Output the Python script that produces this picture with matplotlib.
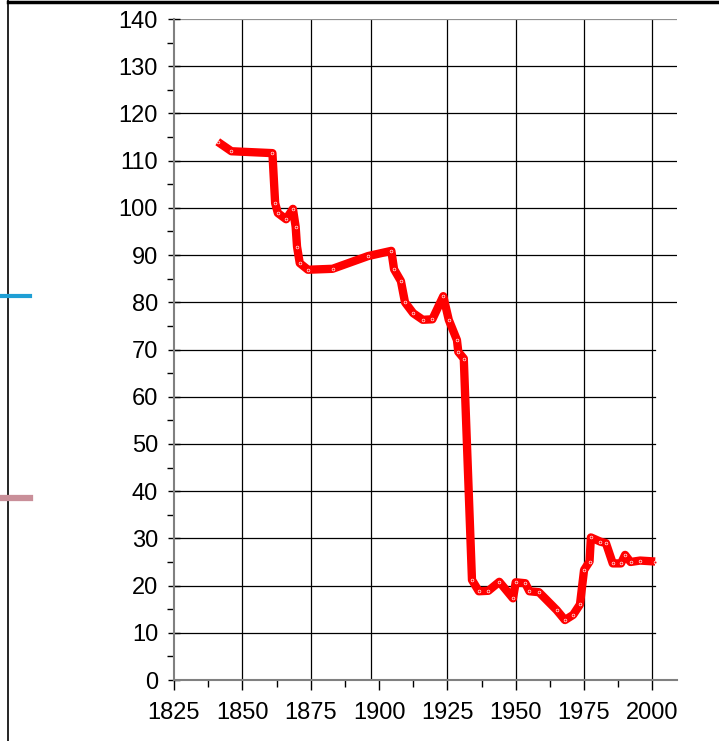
import matplotlib
matplotlib.use("Agg")
import matplotlib.pyplot as plt
from matplotlib.lines import Line2D
from matplotlib.ticker import MultipleLocator

plt.rcParams['font.family'] = ['Liberation Sans', 'DejaVu Sans']

# data
years = [1841, 1846, 1861, 1862, 1863, 1866, 1868.5, 1869.5, 1870, 1871,
         1874, 1883, 1896, 1904.5, 1905.5, 1908, 1909.5, 1912.5, 1916, 1919.5,
         1923.5, 1925.5, 1928.5, 1929, 1931, 1934, 1936.5, 1940, 1944, 1949,
         1950, 1953.5, 1955, 1958.5, 1965, 1968, 1971, 1973.5, 1975, 1977,
         1977.5, 1981, 1983, 1985.5, 1988.5, 1990, 1992, 1995.5, 2001]
values = [114, 112, 111.6, 101, 98.9, 97.6, 99.8, 96, 91.8, 88.3,
          86.9, 87.1, 89.8, 90.9, 87, 84.5, 80, 77.7, 76.3, 76.4,
          81.3, 76.3, 72, 69.5, 68.1, 21.2, 18.8, 18.9, 20.8, 17.3,
          20.7, 20.5, 18.8, 18.6, 14.8, 12.7, 13.8, 16, 23.3, 25.1,
          30.2, 29.3, 29, 24.7, 24.7, 26.5, 25, 25.3, 25.1]

x_ticks = [1825, 1850, 1875, 1900, 1925, 1950, 1975, 2000]
x_grid = [1850, 1875, 1897, 1925, 1950, 1975, 2000]
y_ticks = list(range(0, 141, 10))

fig = plt.figure(figsize=(7.19, 7.41), dpi=100)
ax = fig.add_axes([0.242, 0.0823, 0.6996, 0.892])

# gridlines (the old chart has them slightly off the ticks)
for g in x_grid:
    ax.axvline(g, color='black', lw=0.9, zorder=1)
for v in y_ticks[1:-1]:
    right = 1.0 if v >= 80 else 0.957
    ax.axhline(v, xmax=right, color='black', lw=0.9, zorder=1)
ax.axhline(140, color='#909090', lw=1.6, zorder=1)

ax.plot(years, values, color='#ff0000', lw=6, solid_joinstyle='round',
        solid_capstyle='butt', marker='o', markersize=2.0, mfc='#ff0000',
        mec='white', mew=0.45, zorder=3)

ax.set_xlim(1825, 2009)
ax.set_ylim(0, 140)
ax.set_xticks(x_ticks)
ax.set_yticks(y_ticks)
ax.xaxis.set_minor_locator(MultipleLocator(12.5))
ax.yaxis.set_minor_locator(MultipleLocator(5))
ax.tick_params(axis='both', which='major', labelsize=17, color='black',
               width=1, length=6)
ax.tick_params(axis='y', which='major', direction='inout', length=9, pad=7)
ax.tick_params(axis='y', which='minor', direction='out', length=5, width=1)
ax.tick_params(axis='x', which='major', direction='out', length=7, pad=9)
ax.tick_params(axis='x', which='minor', direction='out', length=5, width=1)

for s in ['top', 'right']:
    ax.spines[s].set_visible(False)
for s in ['left', 'bottom']:
    ax.spines[s].set_color('#808080')
    ax.spines[s].set_linewidth(1.5)

# bits of the surrounding page that got cropped in
fig.add_artist(Line2D([8 / 719, 8 / 719], [0, 1], color='black', lw=1.2))
fig.add_artist(Line2D([8 / 719, 1], [0.997, 0.997], color='black', lw=2.5))
fig.add_artist(Line2D([0, 30 / 719], [1 - 296 / 741] * 2, color='#1f9fd5', lw=3))
fig.add_artist(Line2D([0, 30 / 719], [1 - 498 / 741] * 2, color='#c98f99', lw=4.5))

fig.savefig('out.png', dpi=100)
